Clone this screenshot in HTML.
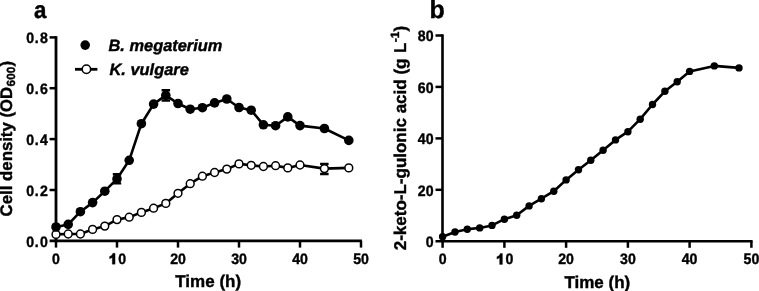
<!DOCTYPE html><html><head><meta charset="utf-8"><style>html,body{margin:0;padding:0;background:#fff;}svg{display:block;filter:grayscale(1);}text{text-rendering:geometricPrecision;font-family:"Liberation Sans",sans-serif;font-weight:bold;fill:#000;stroke:#000;stroke-width:0.4px;}</style></head><body>
<svg width="759" height="291" viewBox="0 0 759 291">
<text transform="translate(34.0,17.9) scale(0.93,1)" font-size="24">a</text>
<path d="M56.0,36.15 V242.2" stroke="#000" stroke-width="2.8" fill="none"/>
<path d="M49.6,240.8 H361.9" stroke="#000" stroke-width="2.8" fill="none"/>
<text transform="translate(0,246.5) scale(0.93,1)" x="32.58 39.52 47.37" font-size="15.2" text-anchor="middle">0.0</text>
<path d="M49.6,190.0 H56.0" stroke="#000" stroke-width="2.5"/>
<text transform="translate(0,195.7) scale(0.93,1)" x="32.58 39.52 47.37" font-size="15.2" text-anchor="middle">0.2</text>
<path d="M49.6,139.1 H56.0" stroke="#000" stroke-width="2.5"/>
<text transform="translate(0,144.8) scale(0.93,1)" x="32.58 39.52 47.37" font-size="15.2" text-anchor="middle">0.4</text>
<path d="M49.6,88.2 H56.0" stroke="#000" stroke-width="2.5"/>
<text transform="translate(0,94.0) scale(0.93,1)" x="32.58 39.52 47.37" font-size="15.2" text-anchor="middle">0.6</text>
<path d="M49.6,37.4 H56.0" stroke="#000" stroke-width="2.5"/>
<text transform="translate(0,43.1) scale(0.93,1)" x="32.58 39.52 47.37" font-size="15.2" text-anchor="middle">0.8</text>
<path d="M56.0,240.8 V247.6" stroke="#000" stroke-width="2.5"/>
<text transform="translate(56.0,264.2) scale(0.93,1)" font-size="15.2" text-anchor="middle" class="tk">0</text>
<path d="M117.0,240.8 V247.6" stroke="#000" stroke-width="2.5"/>
<path d="M115.10,253.30 V264.20 H112.25 V257.50 C111.35,258.20 110.25,258.60 109.55,258.80 V256.50 C111.25,256.00 112.45,254.80 112.85,253.30 Z" fill="#000" stroke="#000" stroke-width="0.3"/><text transform="translate(122.05,264.2) scale(0.93,1)" font-size="15.2" text-anchor="middle">0</text>
<path d="M178.0,240.8 V247.6" stroke="#000" stroke-width="2.5"/>
<text transform="translate(178.0,264.2) scale(0.93,1)" font-size="15.2" text-anchor="middle" class="tk">20</text>
<path d="M239.0,240.8 V247.6" stroke="#000" stroke-width="2.5"/>
<text transform="translate(239.0,264.2) scale(0.93,1)" font-size="15.2" text-anchor="middle" class="tk">30</text>
<path d="M300.0,240.8 V247.6" stroke="#000" stroke-width="2.5"/>
<text transform="translate(300.0,264.2) scale(0.93,1)" font-size="15.2" text-anchor="middle" class="tk">40</text>
<path d="M361.0,240.8 V247.6" stroke="#000" stroke-width="2.5"/>
<text transform="translate(361.0,264.2) scale(0.93,1)" font-size="15.2" text-anchor="middle" class="tk">50</text>
<text x="208.2" y="286.8" font-size="17" text-anchor="middle">Time (h)</text>
<text transform="translate(12.3,138.6) rotate(-90)" font-size="16.8" text-anchor="middle">Cell density (OD<tspan font-size="11.8" dx="0.4" dy="3">600</tspan><tspan dx="0.3" dy="-3">)</tspan></text>
<path d="M117.0,174.3 V183.4 M112.8,174.3 H121.2 M112.8,183.4 H121.2" stroke="#000" stroke-width="2.4" fill="none"/>
<path d="M165.8,90.2 V100.5 M161.6,90.2 H170.1 M161.6,100.5 H170.1" stroke="#000" stroke-width="2.4" fill="none"/>
<path d="M324.4,163.9 V174.0 M320.1,163.9 H328.6 M320.1,174.0 H328.6" stroke="#000" stroke-width="2.4" fill="none"/>
<polyline points="56.0,234.4 68.2,234.0 80.4,234.0 92.6,229.4 104.8,226.1 117.0,219.6 129.2,217.2 141.4,212.4 153.6,208.2 165.8,203.4 178.0,193.3 190.2,183.7 202.4,176.2 214.6,172.5 226.8,169.1 239.0,163.9 251.2,165.3 263.4,166.5 275.6,165.7 287.8,167.9 300.0,165.0 324.4,168.6 348.8,167.9" stroke="#000" stroke-width="2.6" fill="none" stroke-linejoin="round"/>
<polyline points="56.0,227.0 68.2,224.4 80.4,211.7 92.6,202.6 104.8,191.2 117.0,178.9 129.2,160.3 141.4,123.7 153.6,104.1 165.8,95.3 178.0,103.5 190.2,109.2 202.4,107.7 214.6,102.9 226.8,99.0 239.0,107.5 251.2,110.2 263.4,124.8 275.6,125.7 287.8,116.9 300.0,125.6 324.4,128.5 348.8,140.4" stroke="#000" stroke-width="2.6" fill="none" stroke-linejoin="round"/>
<circle cx="56.0" cy="234.4" r="3.9" fill="#fff" stroke="#000" stroke-width="1.5"/>
<circle cx="68.2" cy="234" r="3.9" fill="#fff" stroke="#000" stroke-width="1.5"/>
<circle cx="80.4" cy="234" r="3.9" fill="#fff" stroke="#000" stroke-width="1.5"/>
<circle cx="92.6" cy="229.4" r="3.9" fill="#fff" stroke="#000" stroke-width="1.5"/>
<circle cx="104.8" cy="226.1" r="3.9" fill="#fff" stroke="#000" stroke-width="1.5"/>
<circle cx="117.0" cy="219.6" r="3.9" fill="#fff" stroke="#000" stroke-width="1.5"/>
<circle cx="129.2" cy="217.2" r="3.9" fill="#fff" stroke="#000" stroke-width="1.5"/>
<circle cx="141.4" cy="212.4" r="3.9" fill="#fff" stroke="#000" stroke-width="1.5"/>
<circle cx="153.6" cy="208.2" r="3.9" fill="#fff" stroke="#000" stroke-width="1.5"/>
<circle cx="165.8" cy="203.4" r="3.9" fill="#fff" stroke="#000" stroke-width="1.5"/>
<circle cx="178.0" cy="193.3" r="3.9" fill="#fff" stroke="#000" stroke-width="1.5"/>
<circle cx="190.2" cy="183.7" r="3.9" fill="#fff" stroke="#000" stroke-width="1.5"/>
<circle cx="202.4" cy="176.2" r="3.9" fill="#fff" stroke="#000" stroke-width="1.5"/>
<circle cx="214.6" cy="172.5" r="3.9" fill="#fff" stroke="#000" stroke-width="1.5"/>
<circle cx="226.8" cy="169.1" r="3.9" fill="#fff" stroke="#000" stroke-width="1.5"/>
<circle cx="239.0" cy="163.9" r="3.9" fill="#fff" stroke="#000" stroke-width="1.5"/>
<circle cx="251.2" cy="165.3" r="3.9" fill="#fff" stroke="#000" stroke-width="1.5"/>
<circle cx="263.4" cy="166.5" r="3.9" fill="#fff" stroke="#000" stroke-width="1.5"/>
<circle cx="275.6" cy="165.7" r="3.9" fill="#fff" stroke="#000" stroke-width="1.5"/>
<circle cx="287.8" cy="167.9" r="3.9" fill="#fff" stroke="#000" stroke-width="1.5"/>
<circle cx="300.0" cy="165" r="3.9" fill="#fff" stroke="#000" stroke-width="1.5"/>
<circle cx="324.4" cy="168.6" r="3.9" fill="#fff" stroke="#000" stroke-width="1.5"/>
<circle cx="348.8" cy="167.9" r="3.9" fill="#fff" stroke="#000" stroke-width="1.5"/>
<circle cx="56.0" cy="227" r="4.8" fill="#000"/>
<circle cx="68.2" cy="224.4" r="4.8" fill="#000"/>
<circle cx="80.4" cy="211.7" r="4.8" fill="#000"/>
<circle cx="92.6" cy="202.6" r="4.8" fill="#000"/>
<circle cx="104.8" cy="191.2" r="4.8" fill="#000"/>
<circle cx="117.0" cy="178.9" r="4.8" fill="#000"/>
<circle cx="129.2" cy="160.3" r="4.8" fill="#000"/>
<circle cx="141.4" cy="123.7" r="4.8" fill="#000"/>
<circle cx="153.6" cy="104.1" r="4.8" fill="#000"/>
<circle cx="165.8" cy="95.3" r="4.8" fill="#000"/>
<circle cx="178.0" cy="103.5" r="4.8" fill="#000"/>
<circle cx="190.2" cy="109.2" r="4.8" fill="#000"/>
<circle cx="202.4" cy="107.7" r="4.8" fill="#000"/>
<circle cx="214.6" cy="102.9" r="4.8" fill="#000"/>
<circle cx="226.8" cy="99.0" r="4.8" fill="#000"/>
<circle cx="239.0" cy="107.5" r="4.8" fill="#000"/>
<circle cx="251.2" cy="110.2" r="4.8" fill="#000"/>
<circle cx="263.4" cy="124.8" r="4.8" fill="#000"/>
<circle cx="275.6" cy="125.7" r="4.8" fill="#000"/>
<circle cx="287.8" cy="116.9" r="4.8" fill="#000"/>
<circle cx="300.0" cy="125.6" r="4.8" fill="#000"/>
<circle cx="324.4" cy="128.5" r="4.8" fill="#000"/>
<circle cx="348.8" cy="140.4" r="4.8" fill="#000"/>
<circle cx="85.2" cy="45.1" r="4.8" fill="#000"/>
<text x="108.5" y="51" font-size="16.4" font-style="italic">B. megaterium</text>
<path d="M75.0,69.3 H97.4" stroke="#000" stroke-width="2.8"/>
<circle cx="86.4" cy="69.2" r="4.2" fill="#fff" stroke="#000" stroke-width="1.5"/>
<text x="109.5" y="74.9" font-size="16.4" font-style="italic">K. vulgare</text>
<text x="429.6" y="18.2" font-size="25">b</text>
<path d="M442.5,34.3 V242.4" stroke="#000" stroke-width="2.6" fill="none"/>
<path d="M435.5,241.2 H752.6" stroke="#000" stroke-width="2.5" fill="none"/>
<text transform="translate(433.5,246.9) scale(0.93,1)" font-size="15.2" text-anchor="end" class="tk">0</text>
<path d="M435.5,189.8 H442.5" stroke="#000" stroke-width="2.5"/>
<text transform="translate(433.5,195.5) scale(0.93,1)" font-size="15.2" text-anchor="end" class="tk">20</text>
<path d="M435.5,138.4 H442.5" stroke="#000" stroke-width="2.5"/>
<text transform="translate(433.5,144.1) scale(0.93,1)" font-size="15.2" text-anchor="end" class="tk">40</text>
<path d="M435.5,86.9 H442.5" stroke="#000" stroke-width="2.5"/>
<text transform="translate(433.5,92.6) scale(0.93,1)" font-size="15.2" text-anchor="end" class="tk">60</text>
<path d="M435.5,35.5 H442.5" stroke="#000" stroke-width="2.5"/>
<text transform="translate(433.5,41.2) scale(0.93,1)" font-size="15.2" text-anchor="end" class="tk">80</text>
<path d="M442.6,241.2 V247.8" stroke="#000" stroke-width="2.5"/>
<text transform="translate(442.6,264.4) scale(0.93,1)" font-size="15.2" text-anchor="middle" class="tk">0</text>
<path d="M504.4,241.2 V247.8" stroke="#000" stroke-width="2.5"/>
<path d="M502.45,253.50 V264.40 H499.60 V257.70 C498.70,258.40 497.60,258.80 496.90,259.00 V256.70 C498.60,256.20 499.80,255.00 500.20,253.50 Z" fill="#000" stroke="#000" stroke-width="0.3"/><text transform="translate(509.40,264.4) scale(0.93,1)" font-size="15.2" text-anchor="middle">0</text>
<path d="M566.1,241.2 V247.8" stroke="#000" stroke-width="2.5"/>
<text transform="translate(566.1,264.4) scale(0.93,1)" font-size="15.2" text-anchor="middle" class="tk">20</text>
<path d="M627.9,241.2 V247.8" stroke="#000" stroke-width="2.5"/>
<text transform="translate(627.9,264.4) scale(0.93,1)" font-size="15.2" text-anchor="middle" class="tk">30</text>
<path d="M689.6,241.2 V247.8" stroke="#000" stroke-width="2.5"/>
<text transform="translate(689.6,264.4) scale(0.93,1)" font-size="15.2" text-anchor="middle" class="tk">40</text>
<path d="M751.4,241.2 V247.8" stroke="#000" stroke-width="2.5"/>
<text transform="translate(751.4,264.4) scale(0.93,1)" font-size="15.2" text-anchor="middle" class="tk">50</text>
<text x="597.3" y="287.6" font-size="17" text-anchor="middle">Time (h)</text>
<text transform="translate(406.3,138) rotate(-90)" font-size="17" text-anchor="middle">2-keto-L-gulonic acid (g <tspan dx="0.8">L</tspan><tspan font-size="12" dx="0.3" dy="-7.7">-1</tspan><tspan dx="0.3" dy="7.7">)</tspan></text>
<polyline points="442.6,236.7 455.0,232.0 467.3,229.2 479.7,227.9 492.0,225.4 504.4,219.2 516.7,215.3 529.1,205.9 541.4,198.7 553.8,191.2 566.1,179.9 578.5,169.7 590.8,160.3 603.1,150.2 615.5,139.9 627.9,131.7 640.2,119.2 652.5,104.5 664.9,91.3 677.2,81.7 689.6,71.4 714.3,65.9 739.0,67.9" stroke="#000" stroke-width="2.6" fill="none" stroke-linejoin="round"/>
<circle cx="442.6" cy="236.70000000000002" r="3.7" fill="#000"/>
<circle cx="455.0" cy="232.0" r="3.7" fill="#000"/>
<circle cx="467.3" cy="229.20000000000002" r="3.7" fill="#000"/>
<circle cx="479.7" cy="227.9" r="3.7" fill="#000"/>
<circle cx="492.0" cy="225.4" r="3.7" fill="#000"/>
<circle cx="504.4" cy="219.20000000000002" r="3.7" fill="#000"/>
<circle cx="516.7" cy="215.3" r="3.7" fill="#000"/>
<circle cx="529.1" cy="205.9" r="3.7" fill="#000"/>
<circle cx="541.4" cy="198.70000000000002" r="3.7" fill="#000"/>
<circle cx="553.8" cy="191.20000000000002" r="3.7" fill="#000"/>
<circle cx="566.1" cy="179.9" r="3.7" fill="#000"/>
<circle cx="578.5" cy="169.70000000000002" r="3.7" fill="#000"/>
<circle cx="590.8" cy="160.3" r="3.7" fill="#000"/>
<circle cx="603.1" cy="150.20000000000002" r="3.7" fill="#000"/>
<circle cx="615.5" cy="139.9" r="3.7" fill="#000"/>
<circle cx="627.9" cy="131.70000000000002" r="3.7" fill="#000"/>
<circle cx="640.2" cy="119.2" r="3.7" fill="#000"/>
<circle cx="652.5" cy="104.5" r="3.7" fill="#000"/>
<circle cx="664.9" cy="91.30000000000001" r="3.7" fill="#000"/>
<circle cx="677.2" cy="81.7" r="3.7" fill="#000"/>
<circle cx="689.6" cy="71.4" r="3.7" fill="#000"/>
<circle cx="714.3" cy="65.9" r="3.7" fill="#000"/>
<circle cx="739.0" cy="67.9" r="3.7" fill="#000"/>
</svg></body></html>
